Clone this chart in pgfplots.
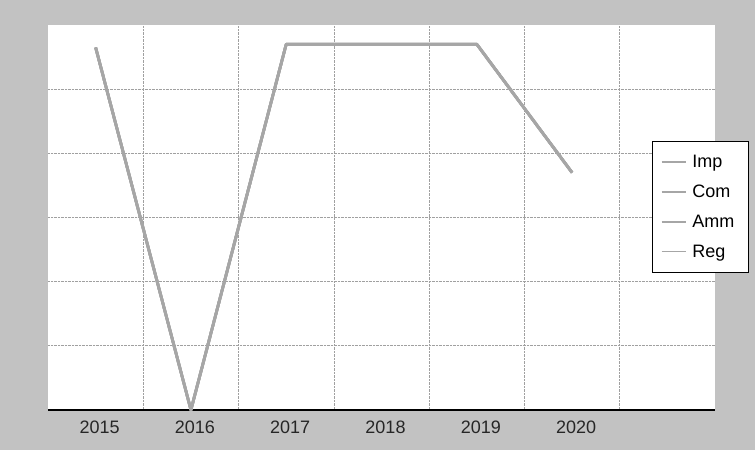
\documentclass[border=0pt]{standalone}
\usepackage{pgfplots}
\pgfplotsset{compat=1.18}
\usepackage{fontspec}
\setmainfont{Liberation Sans}
\definecolor{bg}{HTML}{C2C2C2}
\definecolor{ln}{HTML}{A6A6A6}
\definecolor{gr}{HTML}{A0A0A0}
\begin{document}
\begin{tikzpicture}
\fill[bg] (0pt,0pt) rectangle (755pt,450pt);
\begin{axis}[
  at={(48pt,40pt)}, anchor=south west,
  scale only axis, width=667pt, height=385pt,
  xmin=-0.5, xmax=6.5, ymin=0, ymax=6,
  axis background/.style={fill=white},
  separate axis lines,
  axis x line*=bottom, axis y line*=left,
  x axis line style={line width=2.5pt, black, -},
  y axis line style={draw=none},
  xtick={0,1,2,3,4,5},
  xticklabels={2015,2016,2017,2018,2019,2020},
  minor xtick={0.5,1.5,2.5,3.5,4.5,5.5},
  ytick={1,2,3,4,5},
  yticklabels={},
  major tick length=0pt, minor tick length=0pt,
  xminorgrids, ymajorgrids,
  minor grid style={gr, densely dotted, line width=0.7pt},
  major grid style={gr, densely dotted, line width=0.7pt},
  tick label style={font=\fontsize{18}{20}\selectfont, text=black!85},
  xticklabel style={yshift=-7pt, xshift=4pt},
  legend style={at={(0.906,0.70)}, anchor=north west, draw=black, line width=0.6pt,
    font=\fontsize{18}{20}\selectfont, fill=white,
    row sep=12pt, inner xsep=8pt, inner ysep=12pt,
    nodes={inner xsep=6pt}},
  legend cell align=left,
  legend image code/.code={\draw[ln, line width=1.8pt] (0pt,0pt) -- (24pt,0pt);},
]
\addplot[ln, line width=2.8pt, line join=round] coordinates {(0,5.65) (1,0) (2,5.7) (3,5.7) (4,5.7) (5,3.7)};
\addlegendentry{Imp}
\addplot[ln, line width=2.8pt, line join=round] coordinates {(0,5.65) (1,0) (2,5.7) (3,5.7) (4,5.7) (5,3.7)};
\addlegendentry{Com}
\addplot[ln, line width=2.8pt, line join=round] coordinates {(0,5.65) (1,0) (2,5.7) (3,5.7) (4,5.7) (5,3.7)};
\addlegendentry{Amm}
\addplot[ln, line width=2.8pt, line join=round] coordinates {(0,5.65) (1,0) (2,5.7) (3,5.7) (4,5.7) (5,3.7)};
\addlegendentry{Reg}
\end{axis}
\end{tikzpicture}
\end{document}
